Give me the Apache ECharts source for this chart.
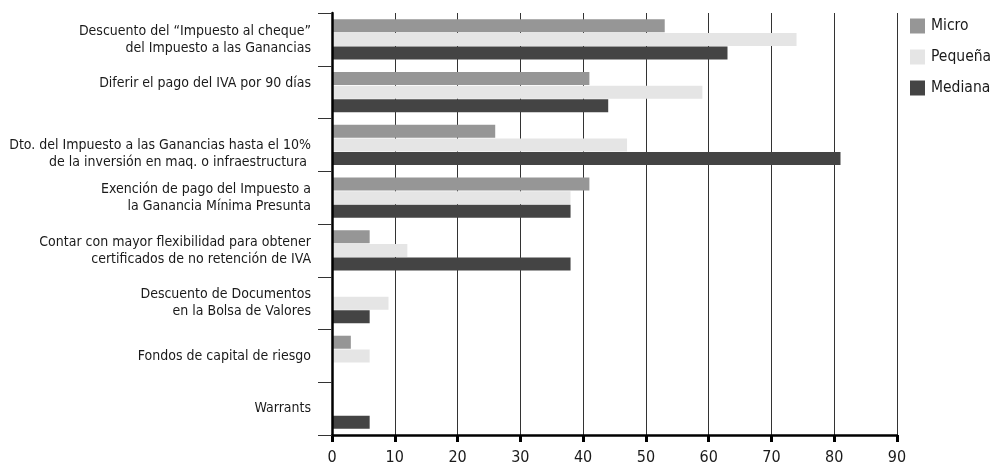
<!DOCTYPE html>
<html>
<head>
<meta charset="utf-8">
<script src="https://cdn.jsdelivr.net/npm/echarts@6/dist/echarts.min.js"></script>
<style>
  html, body { margin: 0; padding: 0; background: #fff; }
  #chart { width: 992px; height: 466px; }
</style>
</head>
<body>
<div id="chart"></div>
<script>
// Measures (top to bottom); blank lines keep the label placement of the original layout
const categories = [
  'Descuento del “Impuesto al cheque”\ndel Impuesto a las Ganancias',
  'Diferir el pago del IVA por 90 días\n',
  '\nDto. del Impuesto a las Ganancias hasta el 10%\nde la inversión en maq. o infraestructura ',
  'Exención de pago del Impuesto a\nla Ganancia Mínima Presunta',
  'Contar con mayor flexibilidad para obtener\ncertificados de no retención de IVA',
  'Descuento de Documentos\nen la Bolsa de Valores',
  'Fondos de capital de riesgo',
  'Warrants'
];

const seriesNames = ['Micro', 'Pequeña', 'Mediana'];
const micro   = [53, 41, 26, 41, 6, 0, 3, 0];
const pequena = [74, 59, 47, 38, 12, 9, 6, 0];
const mediana = [63, 44, 81, 38, 38, 6, 0, 6];

const xTicks = { min: 0, max: 90, interval: 10 };

const colors = ['#969696', '#e5e5e5', '#444444'];
const FONT = '"Liberation Sans Narrow", "DejaVu Sans Condensed", "Roboto", sans-serif';

const chart = echarts.init(document.getElementById('chart'), null, { renderer: 'canvas' });

const makeSeries = (name, data, color) => ({
  name: name,
  type: 'bar',
  data: data,
  barWidth: 13,
  barGap: '5%',
  z: 2,
  itemStyle: { color: color },
  emphasis: { disabled: true },
  animation: false
});

chart.setOption({
  animation: false,
  textStyle: { fontFamily: FONT },
  grid: {
    left: 332, right: 95, top: 13, bottom: 31,
    containLabel: false,
    outerBoundsMode: 'none'
  },
  legend: {
    orient: 'vertical',
    left: 905,
    top: 13,
    itemWidth: 15,
    itemHeight: 15,
    itemGap: 15,
    icon: 'rect',
    selectedMode: false,
    textStyle: { fontFamily: FONT, fontSize: 15.5, color: '#1a1a1a', padding: [0, 0, 0, 1] },
    data: seriesNames
  },
  xAxis: {
    type: 'value',
    min: xTicks.min,
    max: xTicks.max,
    interval: xTicks.interval,
    z: 1,
    axisLine: { show: true, lineStyle: { color: '#000', width: 2.5 } },
    axisTick: { show: true, length: 7, lineStyle: { color: '#000', width: 3 } },
    axisLabel: { margin: 15, fontFamily: FONT, fontSize: 16, color: '#1a1a1a' },
    splitLine: { show: true, lineStyle: { color: '#333', width: 1 } }
  },
  yAxis: {
    type: 'category',
    inverse: true,
    data: categories,
    z: 5,
    axisLine: { show: true, lineStyle: { color: '#000', width: 2.5 } },
    axisTick: { show: true, length: 14, lineStyle: { color: '#333', width: 1 } },
    axisLabel: {
      margin: 21,
      fontFamily: FONT,
      fontSize: 14,
      lineHeight: 17,
      color: '#1a1a1a',
      align: 'right'
    },
    splitLine: { show: false }
  },
  series: [
    makeSeries(seriesNames[0], micro, colors[0]),
    makeSeries(seriesNames[1], pequena, colors[1]),
    makeSeries(seriesNames[2], mediana, colors[2])
  ]
});
</script>
</body>
</html>
